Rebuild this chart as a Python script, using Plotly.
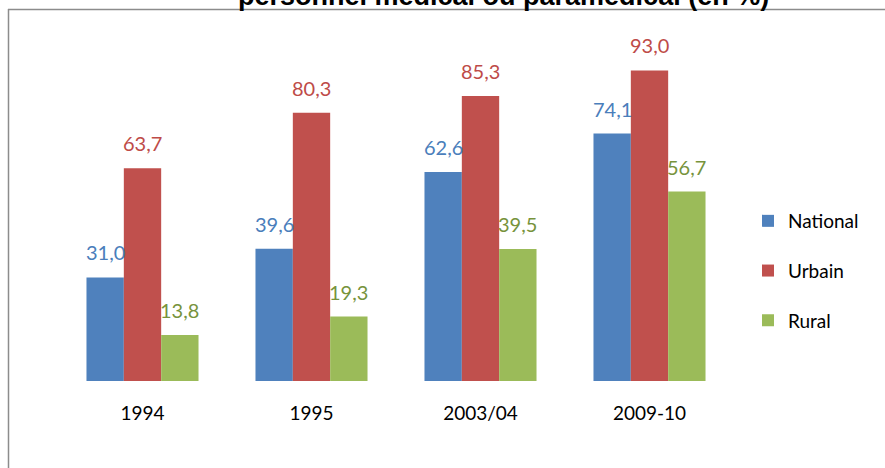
import plotly.graph_objects as go

categories = ["1994", "1995", "2003/04", "2009-10"]
national = [31.0, 39.6, 62.6, 74.1]
urbain = [63.7, 80.3, 85.3, 93.0]
rural = [13.8, 19.3, 39.5, 56.7]
series_names = ["National", "Urbain", "Rural"]
title_text = "personnel médical ou paramédical (en %)"

bar_colors = ["#4F81BD", "#C0504D", "#9BBB59"]
label_colors = ["#4A7EBB", "#BE4B48", "#77933C"]
font_family = "Lato, 'Noto Sans', sans-serif"

W, H = 885, 468
ml, mr, mt, mb = 58, 151, 47, 87
pw = W - ml - mr
ph = H - mt - mb
bargap = 0.337

fig = go.Figure()
all_vals = [national, urbain, rural]
for j, (name, vals) in enumerate(zip(series_names, all_vals)):
    fig.add_trace(go.Bar(
        x=categories, y=vals, name=name,
        marker=dict(color=bar_colors[j], line=dict(width=0)),
        legendgroup=name,
    ))

# data labels as annotations
bw = (1 - bargap) / 3
for j, vals in enumerate(all_vals):
    for i, v in enumerate(vals):
        fig.add_annotation(
            x=i + (j - 1) * bw, y=v, xref="x", yref="y",
            text=f"{v:.1f}".replace(".", ","),
            showarrow=False, yanchor="bottom", yshift=11,
            font=dict(family=font_family, size=20, color=label_colors[j]),
        )


def px_x(p):
    return (p - ml) / pw


def px_y(p):
    return (H - mb - p) / ph


# cut-off title
fig.add_annotation(
    x=px_x(503.5), y=px_y(-4.5), xref="paper", yref="paper",
    text=f"<b>{title_text}</b>", showarrow=False,
    xanchor="center", yanchor="middle",
    font=dict(family="Liberation Sans, Arial", size=27, color="#000000"),
)

# frame lines (top and left)
fig.add_shape(type="line", xref="paper", yref="paper",
              x0=px_x(8), x1=px_x(W + 5), y0=px_y(9.5), y1=px_y(9.5),
              line=dict(color="#8C8C8C", width=1.5))
fig.add_shape(type="line", xref="paper", yref="paper",
              x0=px_x(8.5), x1=px_x(8.5), y0=px_y(9), y1=px_y(H + 5),
              line=dict(color="#8C8C8C", width=1.5))

fig.update_layout(
    width=W, height=H,
    margin=dict(l=ml, r=mr, t=mt, b=mb),
    paper_bgcolor="white", plot_bgcolor="white",
    barmode="group", bargap=bargap, bargroupgap=0,
    showlegend=True,
    legend=dict(
        x=px_x(748), y=px_y(271), xanchor="left", yanchor="middle",
        font=dict(family=font_family, size=19, color="#000000"),
        tracegroupgap=22, itemwidth=30,
        bgcolor="rgba(0,0,0,0)",
    ),
    xaxis=dict(
        showline=False, showgrid=False, zeroline=False,
        ticks="outside", ticklen=15, tickcolor="rgba(0,0,0,0)",
        tickfont=dict(family=font_family, size=19, color="#000000"),
    ),
    yaxis=dict(
        range=[0, 100], showticklabels=False, showgrid=False,
        zeroline=False, showline=False,
    ),
)

fig.write_html(
    "out.html",
    config={"displayModeBar": False},
    post_script="document.body.style.margin='0';document.body.style.overflow='hidden';",
)
